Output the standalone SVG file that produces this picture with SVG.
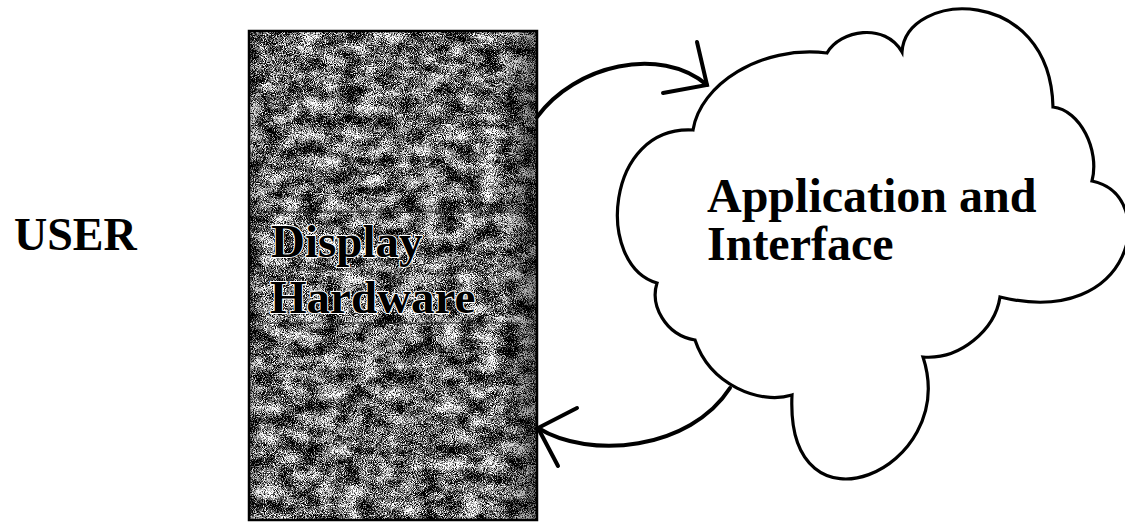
<svg xmlns="http://www.w3.org/2000/svg" width="1125" height="522" viewBox="0 0 1125 522">
  <style>
    .lbl { font-family: "Liberation Serif", "Times New Roman", serif; font-weight: bold; fill: #000; }
    .cloud { fill: #fff; stroke: #000; stroke-width: 3.2; stroke-linejoin: miter; }
    .conn { fill: none; stroke: #000; stroke-width: 4; stroke-linecap: round; }
    .hw { font-family: "Liberation Serif", "Times New Roman", serif; font-weight: bold; font-size: 47px; fill: #000; stroke: #fff; stroke-width: 2; paint-order: stroke; }
  </style>
  <defs>
    <filter id="grain" x="0" y="0" width="100%" height="100%" color-interpolation-filters="sRGB">
      <feTurbulence type="fractalNoise" baseFrequency="1.1" numOctaves="1" seed="4" result="fine0"/>
      <feColorMatrix in="fine0" type="matrix" values="1 0 0 0 0  1 0 0 0 0  1 0 0 0 0  0 0 0 0 1" result="fine"/>
      <feTurbulence type="fractalNoise" baseFrequency="0.05 0.07" numOctaves="3" seed="11" result="coarse0"/>
      <feColorMatrix in="coarse0" type="matrix" values="1 0 0 0 0  1 0 0 0 0  1 0 0 0 0  0 0 0 0 1" result="coarse"/>
      <feComposite in="fine" in2="coarse" operator="arithmetic" k1="0" k2="1" k3="0.5" k4="-0.25" result="mix"/>
      <feColorMatrix in="mix" type="matrix" values="3.4 0 0 0 -1.3  3.4 0 0 0 -1.3  3.4 0 0 0 -1.3  0 0 0 0 1"/>
    </filter>
    <linearGradient id="edge" x1="0" y1="0" x2="1" y2="0">
      <stop offset="0" stop-color="#000" stop-opacity="0.2"/>
      <stop offset="0.05" stop-color="#000" stop-opacity="0"/>
      <stop offset="0.88" stop-color="#000" stop-opacity="0"/>
      <stop offset="1" stop-color="#000" stop-opacity="0.45"/>
    </linearGradient>
  </defs>

  <g id="user">
    <text class="lbl" x="14" y="250" font-size="46">USER</text>
  </g>

  <g id="display">
    <rect x="249" y="31" width="288" height="489" filter="url(#grain)"/>
    <rect x="249" y="31" width="288" height="489" fill="url(#edge)"/>
    <g stroke="#222" stroke-opacity="0.45" stroke-width="2">
      <line x1="262" y1="212" x2="520" y2="212"/>
      <line x1="262" y1="323" x2="520" y2="323"/>
    </g>
    <rect x="249" y="31" width="288" height="489" fill="none" stroke="#000" stroke-width="2.5"/>
    <text class="hw" x="271" y="257">Display</text>
    <text class="hw" x="270" y="313">Hardware</text>
  </g>

  <g id="cloud">
    <path class="cloud" d="M693,130
      C700,85 760,45 827,53
      C840,30 885,22 902,52
      C906,-10 1050,-16 1053,107
      C1080,110 1100,150 1092,181
      C1160,195 1135,330 1000,297
      C995,330 960,360 923,357
      C960,470 785,545 792,395
      C760,405 710,385 695,340
      C665,335 650,305 657,283
      C595,265 605,125 693,130 Z"/>
    <text class="lbl" x="707" y="212" font-size="48">Application and</text>
    <text class="lbl" x="707" y="260" font-size="48">Interface</text>
  </g>

  <g id="connectors">
    <path class="conn" d="M537,117 C575,65 660,45 707,85"/>
    <path class="conn" d="M697,42 L707,85 L663,93"/>
    <path class="conn" d="M730,388 C690,450 590,460 538,428"/>
    <path class="conn" d="M577,408 L538,428 L558,466"/>
  </g>
</svg>
